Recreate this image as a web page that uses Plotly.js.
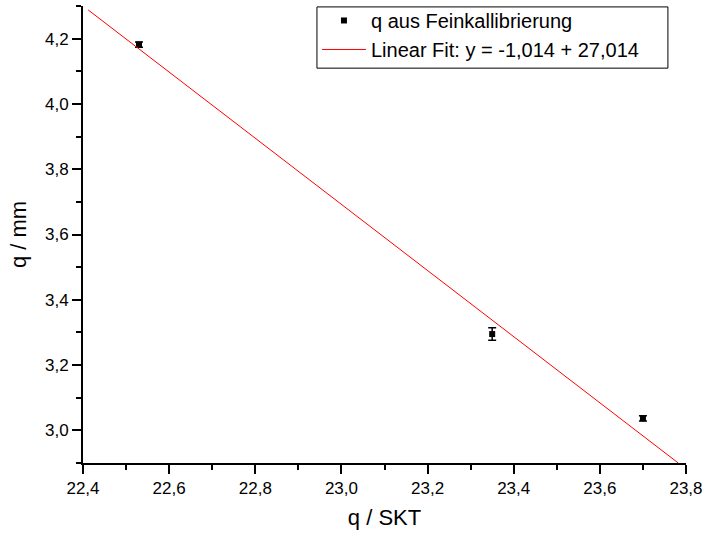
<!DOCTYPE html>
<html>
<head>
<meta charset="utf-8">
<script src="https://cdn.plot.ly/plotly-3.0.1.min.js"></script>
<style>html,body{margin:0;padding:0;background:#fff;}#chart{width:705px;height:535px;}</style>
</head>
<body>
<div id="chart"></div>
<script>
const xData = [22.53, 23.35, 23.70];
const yData = [4.182, 3.295, 3.037];
const yErr = [0.008, 0.019, 0.008];
const fitX = [22.412, 23.782];
const fitY = [4.288, 2.90];
const dataName = 'q aus Feinkallibrierung';
const fitName = 'Linear Fit: y = -1,014 + 27,014';

const traces = [
  {
    x: xData, y: yData, type: 'scatter', mode: 'markers', name: dataName,
    marker: {symbol: 'square', size: 6, color: '#000'},
    error_y: {type: 'data', array: yErr, visible: true, color: '#000', thickness: 1.5, width: 4}
  },
  {
    x: fitX, y: fitY, type: 'scatter', mode: 'lines', name: fitName,
    line: {color: '#ff0000', width: 1}
  }
];

const font = {family: 'Liberation Sans, Arial, sans-serif', color: '#000'};
const layout = {
  width: 705, height: 535,
  margin: {l: 83, r: 19, t: 6, b: 72, autoexpand: false},
  paper_bgcolor: '#fff', plot_bgcolor: '#fff',
  separators: ',.',
  font: Object.assign({size: 17}, font),
  showlegend: true,
  legend: {
    x: 0.388, y: 1.011, xanchor: 'left', yanchor: 'top',
    borderwidth: 0, bgcolor: 'rgba(0,0,0,0)',
    font: Object.assign({size: 20}, font),
    itemwidth: 44,
    tracegroupgap: 0
  },
  shapes: [{
    type: 'rect', xref: 'paper', yref: 'paper',
    x0: 0.388, x1: 0.970, y0: 0.864, y1: 0.998,
    line: {color: '#000', width: 1}, fillcolor: 'rgba(255,255,255,1)', layer: 'above'
  }],
  xaxis: {
    range: [22.4, 23.8], dtick: 0.2, tick0: 22.4, tickformat: '.1f',
    showgrid: false, zeroline: false,
    showline: true, linecolor: '#000', linewidth: 2,
    ticks: 'outside', ticklen: 9, tickwidth: 2, tickcolor: '#000',
    minor: {dtick: 0.1, ticklen: 5, tickwidth: 2, tickcolor: '#000', showgrid: false},
    tickfont: Object.assign({size: 17}, font),
    title: {text: 'q / SKT', font: Object.assign({size: 22}, font), standoff: 12}
  },
  yaxis: {
    range: [2.9, 4.3], dtick: 0.2, tick0: 3.0, tickformat: '.1f',
    showgrid: false, zeroline: false,
    showline: true, linecolor: '#000', linewidth: 2,
    ticks: 'outside', ticklen: 9, tickwidth: 2, tickcolor: '#000',
    minor: {dtick: 0.1, ticklen: 5, tickwidth: 2, tickcolor: '#000', showgrid: false},
    tickfont: Object.assign({size: 17}, font),
    title: {text: 'q / mm', font: Object.assign({size: 22}, font), standoff: 12}
  }
};

Plotly.newPlot('chart', traces, layout, {displayModeBar: false, staticPlot: true});
</script>
</body>
</html>
